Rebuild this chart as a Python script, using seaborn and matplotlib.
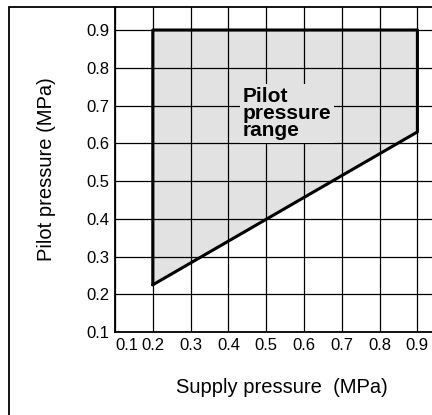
import matplotlib
matplotlib.use("Agg")
import matplotlib.pyplot as plt
import seaborn as sns
import pandas as pd
from matplotlib.patches import Rectangle

# --- Data ---
supply_ticks = [0.1, 0.2, 0.3, 0.4, 0.5, 0.6, 0.7, 0.8, 0.9]
pilot_ticks = [0.1, 0.2, 0.3, 0.4, 0.5, 0.6, 0.7, 0.8, 0.9]

# range boundary (supply, pilot), traced clockwise
boundary_supply = [0.2, 0.2, 0.9, 0.9, 0.2]
boundary_pilot = [0.225, 0.9, 0.9, 0.63, 0.225]

# lower / upper edges of the shaded range
edge_supply = [0.2, 0.9]
edge_lower = [0.225, 0.63]
edge_upper = [0.9, 0.9]

FILL = '#e2e2e2'


def main():
    sns.set_theme(style="whitegrid")
    plt.rcParams['font.family'] = ['Liberation Sans', 'DejaVu Sans']
    plt.rcParams['text.color'] = 'black'
    plt.rcParams['axes.labelcolor'] = 'black'

    fig = plt.figure(figsize=(4.32, 4.15), dpi=100)
    ax = fig.add_axes([115 / 432, 1 - 332 / 415, 1 - 115 / 432, (332 - 7) / 415])

    ax.fill_between(edge_supply, edge_lower, edge_upper, color=FILL, zorder=1, lw=0)

    df = pd.DataFrame({'supply': boundary_supply, 'pilot': boundary_pilot})
    sns.lineplot(data=df, x='supply', y='pilot', sort=False, estimator=None,
                 color='black', lw=2.2, ax=ax, zorder=4)

    ax.text(0.437, 0.750, 'Pilot\npressure\nrange', fontsize=15, fontweight='bold',
            color='black', va='top', ha='left', linespacing=0.88, zorder=3,
            bbox=dict(facecolor=FILL, edgecolor='none', pad=2))

    ax.set_xlim(0.1, 0.1 + (432 - 115) / 378)
    ax.set_ylim(0.1, 0.1 + (332 - 7) / 377.5)
    ax.set_xticks(supply_ticks)
    ax.set_yticks(pilot_ticks)
    ax.set_xticklabels([f'{v:.1f}' for v in supply_ticks], fontsize=12)
    ax.set_yticklabels([f'{v:.1f}' for v in pilot_ticks], fontsize=12)
    ax.get_xticklabels()[0].set_horizontalalignment('left')
    ax.tick_params(axis='both', length=0, pad=4, colors='black')

    ax.grid(True, color='black', lw=0.9, zorder=2)
    ax.set_axisbelow(False)
    for g in ax.get_xgridlines() + ax.get_ygridlines():
        g.set_zorder(2)
    ax.set_facecolor('white')
    for side in ['top', 'right']:
        ax.spines[side].set_visible(False)
    for side in ['left', 'bottom']:
        ax.spines[side].set_color('black')
        ax.spines[side].set_linewidth(1.3)

    ax.set_xlabel('Supply pressure  (MPa)', fontsize=14.5)
    ax.xaxis.set_label_coords(0.527, -0.14)
    ax.set_ylabel('Pilot pressure (MPa)', fontsize=14.5, labelpad=22)

    # outer frame around the whole chart
    fig.patches.append(Rectangle((9 / 432, -0.05), 1.2, 1 - 6.5 / 415 + 0.05,
                                 transform=fig.transFigure, fill=False,
                                 edgecolor='black', lw=1.3))

    fig.savefig('out.png', dpi=100)
    plt.close(fig)


if __name__ == "__main__":
    main()
